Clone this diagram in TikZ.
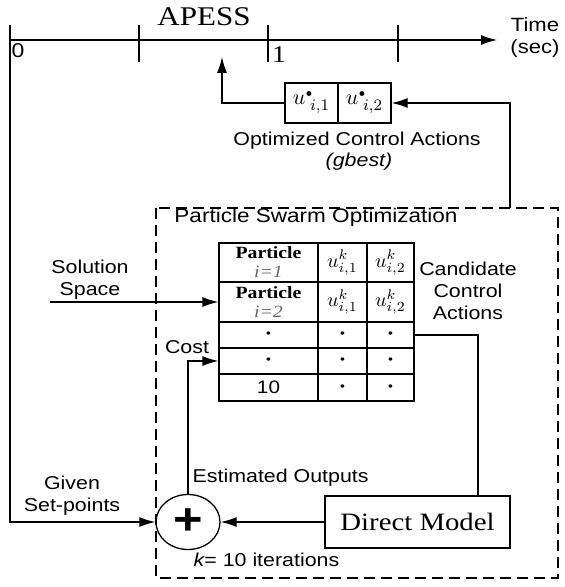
\documentclass[tikz,border=0pt]{standalone}
\usepackage{fontspec}
\usepackage{amsmath}
\usetikzlibrary{positioning,arrows.meta,shapes.geometric}
\newfontfamily\lblfont{Liberation Sans}[FakeStretch=1.15]
\newfontfamily\srffont{Liberation Serif}[FakeStretch=1.15]
\newcommand{\bul}{{\lblfont\fontsize{6}{6}\selectfont\textbullet}}

\tikzset{
  lbl/.style={font=\lblfont\fontsize{9.3}{11}\selectfont, align=center, inner sep=0pt},
  arr/.style={-{Latex[length=8pt,width=5pt]}},
  cell/.style={draw, inner sep=0pt, align=center, font=\fontsize{10}{9.5}\selectfont},
  colA/.style={minimum width=49.5pt},
  colB/.style={minimum width=24.5pt},
  colC/.style={minimum width=23.5pt},
  ubox/.style={draw, inner sep=0pt, minimum width=26.5pt, minimum height=20pt, font=\fontsize{11}{11}\selectfont},
  pso/.style={draw, dash pattern=on 5.5pt off 3pt, line width=1pt}
}

\begin{document}
\begin{tikzpicture}[x=0.5pt,y=-0.5pt,line width=0.65pt]
    \useasboundingbox (0,0) rectangle (565,587);
    % time axis
    \draw[arr] (10,40) -- (497,40);
    \foreach \x in {139,268,398} \draw (\x,25) -- (\x,62);
    \node[font=\srffont\fontsize{13.5}{13.5}\selectfont, inner sep=0pt] (apess) at (204,17) {APESS};
    \node[lbl, font=\lblfont\fontsize{10}{10}\selectfont] (zero) at (18,51) {0};
    \node[font=\srffont\fontsize{12}{12}\selectfont, inner sep=0pt] (one) at (279,55) {1};
    \node[lbl, font=\lblfont\fontsize{9.6}{11}\selectfont] (time) at (535,38) {Time\\(sec)};

    % optimized control actions
    \node[ubox] (u1) at (311.5,103) {$u^{\scriptscriptstyle\bullet}_{\;i,1}$};
    \node[ubox] (u2) at (364.5,103) {$u^{\scriptscriptstyle\bullet}_{\;i,2}$};
    \node[lbl] (oca) at (357,141) {Optimized Control Actions};
    \node[lbl, font=\lblfont\itshape\fontsize{9.3}{11}\selectfont] (gbest) at (359,162) {(gbest)};
    \coordinate (pick) at (222,57);
    \draw[arr] (u1.west) -| (pick);

    % pso block
    \draw[pso] (156,208) rectangle (558,578);
    \node[lbl, font=\lblfont\fontsize{9.8}{11}\selectfont] (psolbl) at (316,217) {Particle Swarm Optimization};
    \coordinate (fb) at (510,208);
    \draw[arr] (fb) |- (u2.east);

    % particle table
    \node[cell, colA, minimum height=19.5pt] (c11) at (268.5,262.5)
      {{\srffont\bfseries\fontsize{8.6}{9.5}\selectfont Particle}\\{\color{black!60}\srffont\itshape\fontsize{8.6}{9.5}\selectfont i=1}};
    \node[cell, colB, minimum height=19.5pt] (c12) at (342.5,262.5) {$u^{k}_{i,1}$};
    \node[cell, colC, minimum height=19.5pt] (c13) at (390.5,262.5) {$u^{k}_{i,2}$};
    \node[cell, colA, minimum height=20pt] (c21) at (268.5,302)
      {{\srffont\bfseries\fontsize{8.6}{9.5}\selectfont Particle}\\{\color{black!60}\srffont\itshape\fontsize{8.6}{9.5}\selectfont i=2}};
    \node[cell, colB, minimum height=20pt] (c22) at (342.5,302) {$u^{k}_{i,1}$};
    \node[cell, colC, minimum height=20pt] (c23) at (390.5,302) {$u^{k}_{i,2}$};
    \foreach \r/\y/\h/\first in {3/335/13/\bul, 4/361/13/\bul, 5/387.5/13.5/{\lblfont\fontsize{9}{9}\selectfont 10}} {
      \node[cell, colA, minimum height=\h pt] (c\r1) at (268.5,\y) {\first};
      \node[cell, colB, minimum height=\h pt] (c\r2) at (342.5,\y) {\bul};
      \node[cell, colC, minimum height=\h pt] (c\r3) at (390.5,\y) {\bul};
    }

    \node[lbl] (space) at (90,280) {Solution\\Space};
    \coordinate (sol) at (50,302);
    \draw[arr] (sol) -- (c21.west);
    \node[lbl] (cand) at (468,291) {Candidate\\Control\\Actions};
    \node[lbl] (cost) at (187,347) {Cost};

    % model and sum
    \node[draw, minimum width=92.5pt, minimum height=26pt, font=\srffont\fontsize{12.5}{12.5}\selectfont] (dm) at (417.5,522) {Direct Model};
    \node[draw, ellipse, minimum width=32pt, minimum height=27.5pt, inner sep=0pt, font=\lblfont\bfseries\fontsize{22}{22}\selectfont] (sum) at (188,522) {+};
    \coordinate (bend) at (478,335);
    \draw (c33.east) -- (bend) -- (bend |- dm.north);
    \draw[arr] (dm.west) -- (sum.east);
    \draw[arr] (sum.north) |- (c41.west);
    \coordinate (t0) at (10,25);
    \draw[arr] (t0) |- (sum.west);
    \node[lbl] (given) at (72,496) {Given\\Set-points};
    \node[lbl, anchor=west] (est) at (192,478) {Estimated Outputs};
    \node[lbl, anchor=west] (iter) at (193,560) {{\itshape k}= 10 iterations};
\end{tikzpicture}
\end{document}
